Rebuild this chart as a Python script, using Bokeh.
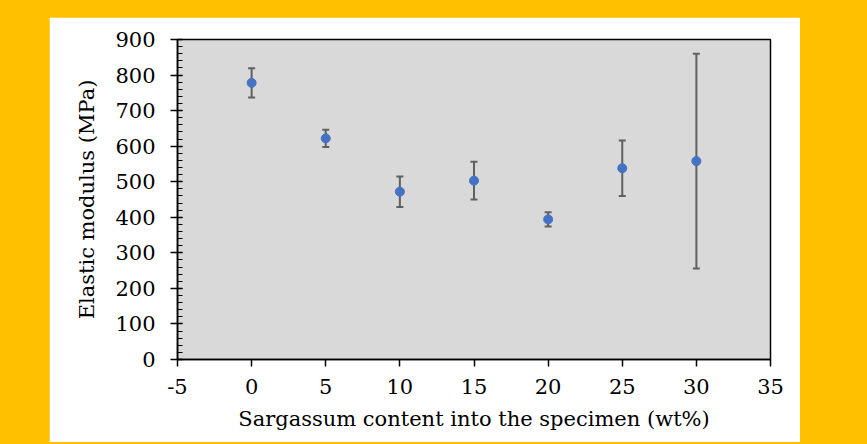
from bokeh.plotting import figure
from bokeh.models import ColumnDataSource, Range1d, Whisker, TeeHead, FixedTicker
from bokeh.layouts import column
from bokeh.embed import file_html
from bokeh.resources import INLINE

# Data
content_wt = [0, 5, 10, 15, 20, 25, 30]
modulus_mpa = [778, 622, 472, 503, 394, 538, 558]
modulus_err = [41, 24, 43, 53, 20, 78, 302]

x_ticks = [-5, 0, 5, 10, 15, 20, 25, 30, 35]
y_ticks = [0, 100, 200, 300, 400, 500, 600, 700, 800, 900]
y_minor_step = 20

upper = [m + e for m, e in zip(modulus_mpa, modulus_err)]
lower = [m - e for m, e in zip(modulus_mpa, modulus_err)]
src = ColumnDataSource(dict(x=content_wt, y=modulus_mpa, upper=upper, lower=lower))

FONT = "DejaVu Serif"

p = figure(width=751, height=425,
           x_range=Range1d(-5, 35), y_range=Range1d(0, 900),
           output_backend="svg", toolbar_location=None,
           min_border_left=128, min_border_right=30,
           min_border_top=22, min_border_bottom=83,
           background_fill_color="#D9D9D9", border_fill_color="white")
p.margin = (17, 67, 2, 49)

p.grid.visible = False
p.outline_line_color = "black"
p.outline_line_width = 1.5
p.outline_line_alpha = 1.0

err_color = "#606060"
wh = Whisker(source=src, base="x", upper="upper", lower="lower",
             line_color=err_color, line_width=2,
             upper_head=TeeHead(size=7, line_color=err_color, line_width=2),
             lower_head=TeeHead(size=7, line_color=err_color, line_width=2))
p.add_layout(wh)

p.scatter("x", "y", source=src, size=9, color="#4472C4", line_color="#4472C4")

p.yaxis.ticker = FixedTicker(ticks=y_ticks,
                             minor_ticks=list(range(y_ticks[0], y_ticks[-1] + 1, y_minor_step)))
p.xaxis.ticker = FixedTicker(ticks=x_ticks, minor_ticks=[])
p.xaxis.major_label_overrides = {t: str(t) for t in x_ticks}

for ax in (p.xaxis, p.yaxis):
    ax.axis_line_color = "black"
    ax.axis_line_width = 1.5
    ax.major_tick_line_color = "black"
    ax.major_tick_line_width = 1.5
    ax.minor_tick_line_color = "black"
    ax.minor_tick_line_width = 1
    ax.major_label_text_font = FONT
    ax.major_label_text_font_size = "21px"
    ax.major_label_text_color = "black"
    ax.axis_label_text_font = FONT
    ax.axis_label_text_font_size = "21px"
    ax.axis_label_text_font_style = "normal"
    ax.axis_label_text_color = "black"

p.xaxis.major_tick_in = 0
p.xaxis.major_tick_out = 7
p.xaxis.minor_tick_in = 0
p.xaxis.minor_tick_out = 0
p.xaxis.major_label_standoff = 12
p.xaxis.axis_label = "Sargassum content into the specimen (wt%)"
p.xaxis.axis_label_standoff = 10

p.yaxis.major_tick_in = 5
p.yaxis.major_tick_out = 7
p.yaxis.minor_tick_in = 5
p.yaxis.minor_tick_out = 0
p.yaxis.major_label_standoff = 15
p.yaxis.axis_label = "Elastic modulus (MPa)"
p.yaxis.axis_label_standoff = 13

layout = column(p, width=867, height=444, styles={"background-color": "#FFC000"})

open("out.html", "w").write(file_html(layout, INLINE))
